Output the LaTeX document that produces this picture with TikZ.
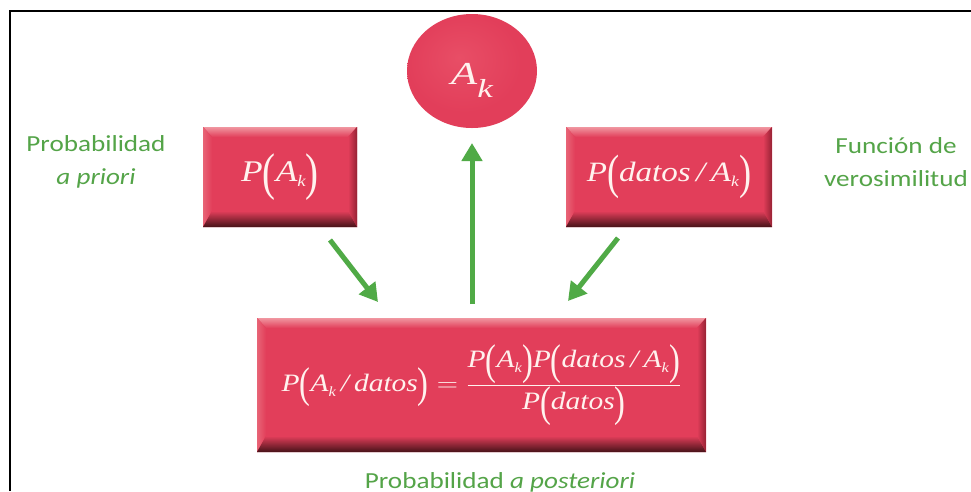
\documentclass[tikz,border=0pt]{standalone}
\usepackage{fontspec}
\usepackage{graphicx}
\setmainfont{Liberation Serif}
\newfontfamily\labfont{Carlito}
\usetikzlibrary{shapes.geometric,arrows.meta,calc}
\definecolor{boxred}{RGB}{226,62,90}
\definecolor{boxlight}{RGB}{240,150,160}
\definecolor{boxlside}{RGB}{232,100,118}
\definecolor{boxdark}{RGB}{70,18,24}
\definecolor{boxside}{RGB}{150,34,52}
\definecolor{boxtext}{RGB}{255,242,238}
\definecolor{labgreen}{RGB}{84,164,72}
\definecolor{arrgreen}{RGB}{80,170,70}
\definecolor{ballc}{RGB}{232,78,102}
\pgfdeclareradialshading{redball}{\pgfpoint{-5bp}{6bp}}{color(0bp)=(ballc); color(22bp)=(boxred); color(36bp)=(boxred); color(45bp)=(boxside); color(56bp)=(boxdark)}
\newcommand{\hx}[1]{\scalebox{1.18}[1]{#1}}
\newcommand{\lp}{\raisebox{-0.26em}{\scalebox{1.1}[1.72]{(}}}
\newcommand{\rp}{\raisebox{-0.26em}{\scalebox{1.1}[1.72]{)}}}
\newcommand{\sub}[3]{\raisebox{-#1pt}{\fontsize{#2}{#2}\selectfont\itshape #3}}
\tikzset{
  bevelbox/.style={rectangle, fill=boxred, text=boxtext, inner sep=0pt,
    path picture={
      \path (path picture bounding box.north west) coordinate (bnw)
            (path picture bounding box.north east) coordinate (bne)
            (path picture bounding box.south west) coordinate (bsw)
            (path picture bounding box.south east) coordinate (bse);
      \fill[top color=boxlight, bottom color=boxred] (bnw) -- (bne) -- ([shift={(-9pt,-10pt)}]bne) -- ([shift={(9pt,-10pt)}]bnw) -- cycle;
      \fill[left color=boxlside, right color=boxred] (bnw) -- ([shift={(9pt,-10pt)}]bnw) -- ([shift={(9pt,16pt)}]bsw) -- (bsw) -- cycle;
      \fill[left color=boxred, right color=boxside] (bne) -- ([shift={(-9pt,-10pt)}]bne) -- ([shift={(-9pt,16pt)}]bse) -- (bse) -- cycle;
      \fill[top color=boxred, bottom color=boxdark] (bsw) -- (bse) -- ([shift={(-9pt,16pt)}]bse) -- ([shift={(9pt,16pt)}]bsw) -- cycle;
    }},
  ball/.style={ellipse, inner sep=0pt, shade, shading=redball, text=boxtext},
  lab/.style={text=labgreen, font=\labfont\fontsize{23}{33}\selectfont, align=center, inner sep=0pt},
  garrow/.style={draw=arrgreen, line width=5pt, -{Triangle[width=20pt,length=18pt]}},
  frame/.style={draw=black, line width=1.3pt}
}
\begin{document}
\begin{tikzpicture}[x=1pt,y=-1pt]
\useasboundingbox[fill=white] (0,0) rectangle (971,491);
\coordinate (f0) at (10,491);
\coordinate (f1) at (10,11);
\coordinate (f2) at (971,11);
\draw[frame] (f0) -- (f1) -- (f2);

\node[ball, minimum width=130pt, minimum height=114pt, text height=36pt, text depth=10pt] (ak) at (472,71)
  {\fontsize{32}{32}\selectfont\scalebox{1.35}[1]{\textit{A}\sub{13}{26}{k}}};

\node[bevelbox, minimum width=154pt, minimum height=100pt] (pa) at (280,177)
  {\fontsize{30}{30}\selectfont\hx{\textit{P}\lp\textit{A}\sub{5}{16}{k}\rp}};

\node[bevelbox, minimum width=206pt, minimum height=100pt] (pd) at (669,177)
  {\fontsize{28}{28}\selectfont\hx{\textit{P}\lp\textit{datos\,/\,A}\sub{5}{15}{k}\rp}};

\node[bevelbox, minimum width=449pt, minimum height=134pt] (post) at (481.5,385)
  {\fontsize{25}{25}\selectfont\hx{\textit{P}\lp\textit{A}\sub{5}{14}{k}\,\textit{/\,datos}\rp\;$=$\;$\displaystyle\frac{\mbox{\textit{P}\lp\textit{A}\sub{5}{14}{k}\rp\textit{P}\lp\textit{datos\,/\,A}\sub{5}{14}{k}\rp}}{\mbox{\textit{P}\lp\textit{datos}\rp}}$}};

\node[lab] (lp) at (96,162) {\hx{Probabilidad}\\\hx{\itshape a priori}};
\node[lab] (lv) at (896,162) {\hx{Función de}\\\hx{verosimilitud}};
\node[lab, anchor=base] (lpost) at (500,488) {\hx{Probabilidad \textit{a posteriori}}};

\coordinate (l1) at (330,240);
\coordinate (l2) at (378,302);
\coordinate (c1) at (472,304);
\coordinate (c2) at (472,143);
\coordinate (r1) at (618,238);
\coordinate (r2) at (568,301);
\draw[garrow] (l1) -- (l2);
\draw[garrow] (c1) -- (c2);
\draw[garrow] (r1) -- (r2);
\end{tikzpicture}
\end{document}
